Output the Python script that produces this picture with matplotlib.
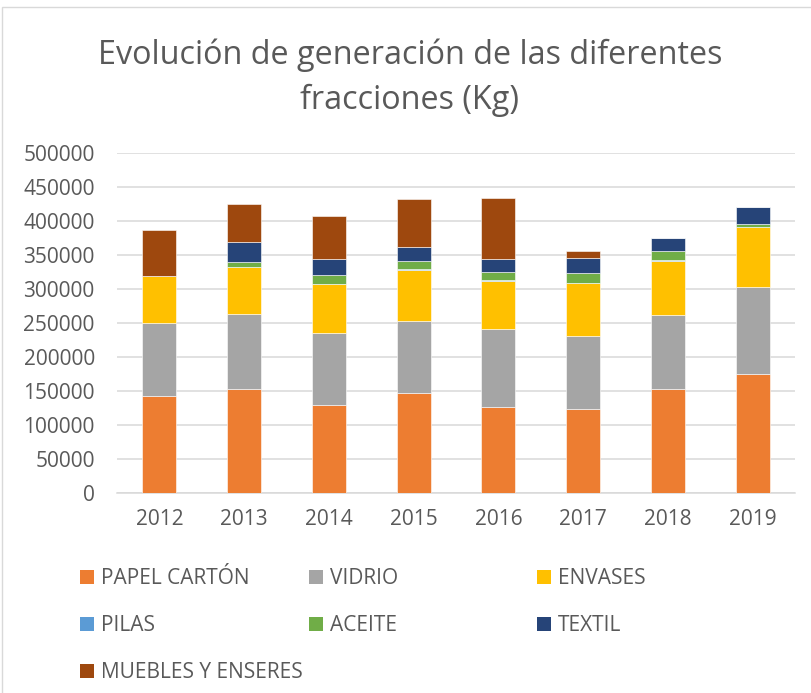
import matplotlib
matplotlib.use("Agg")
import matplotlib.pyplot as plt
import numpy as np
from matplotlib.patches import Rectangle, Patch

plt.rcParams['font.family'] = ['Open Sans', 'DejaVu Sans']

# Kg generados por fracción y año
anios = ['2012', '2013', '2014', '2015', '2016', '2017', '2018', '2019']
papel_carton = [142000, 152000, 128400, 147100, 126500, 123000, 152000, 174000]
vidrio = [107500, 110300, 106900, 105800, 114700, 107900, 109300, 128900]
envases = [68600, 69100, 71100, 75000, 70600, 77400, 79900, 87300]
pilas = [500, 500, 500, 500, 500, 500, 500, 500]
aceite = [0, 7300, 13200, 12300, 11700, 13700, 13200, 3900]
textil = [0, 28900, 23000, 21100, 20100, 23100, 20100, 25500]
muebles_enseres = [67000, 56900, 64300, 70600, 88800, 9800, 0, 0]

fracciones = ['PAPEL CARTÓN', 'VIDRIO', 'ENVASES', 'PILAS', 'ACEITE',
              'TEXTIL', 'MUEBLES Y ENSERES']
series = [papel_carton, vidrio, envases, pilas, aceite, textil, muebles_enseres]
colores = ['#ED7D31', '#A5A5A5', '#FFC000', '#5B9BD5', '#70AD47',
           '#264478', '#9E480E']

gris_texto = '#595959'
gris_linea = '#D9D9D9'

fig = plt.figure(figsize=(8.11, 6.93), dpi=100)
ax = fig.add_axes([117 / 811, 200.3 / 693, 678 / 811, 340 / 693])

x = np.arange(len(anios))
base = np.zeros(len(anios))
for nombre, valores, color in zip(fracciones, series, colores):
    ax.bar(x, valores, width=0.4, bottom=base, color=color,
           edgecolor='white', linewidth=0.4, label=nombre, zorder=3)
    base += np.array(valores)

ax.set_xlim(-0.5, len(anios) - 0.5)
ax.set_ylim(0, 500000)
ax.set_yticks(np.arange(0, 500001, 50000))
ax.set_yticklabels([str(v) for v in range(0, 500001, 50000)])
ax.set_xticks(x)
ax.set_xticklabels(anios)
ax.tick_params(axis='both', length=0, labelsize=15, colors=gris_texto)
ax.tick_params(axis='y', pad=16)
ax.tick_params(axis='x', pad=12)
ax.grid(axis='y', color=gris_linea, linewidth=1.1, zorder=0)
for lado in ['top', 'right', 'left']:
    ax.spines[lado].set_visible(False)
ax.spines['bottom'].set_color(gris_linea)
ax.spines['bottom'].set_linewidth(1.1)

fig.text(410 / 811, 1 - 55 / 693, 'Evolución de generación de las diferentes',
         ha='center', va='center', fontsize=23.3, color=gris_texto)
fig.text(410 / 811, 1 - 100 / 693, 'fracciones (Kg)',
         ha='center', va='center', fontsize=23.3, color=gris_texto)

# leyenda en tres columnas de ancho fijo
columnas = [[0, 3, 6], [1, 4], [2, 5]]
x_columnas = [80, 309, 537]
for idx, xc in zip(columnas, x_columnas):
    handles = [Patch(facecolor=colores[i], edgecolor='none') for i in idx]
    etiquetas = [fracciones[i] for i in idx]
    fig.legend(handles, etiquetas, loc='upper left',
               bbox_to_anchor=(xc / 811, 1 - 568 / 693),
               frameon=False, fontsize=15, labelcolor=gris_texto,
               handlelength=0.67, handleheight=0.67, handletextpad=0.34,
               labelspacing=1.26, borderpad=0, borderaxespad=0)

# marco del gráfico
fig.add_artist(Rectangle((2 / 811, -0.05), 1.2, 1 - 7 / 693 + 0.05,
                         transform=fig.transFigure, fill=False,
                         edgecolor=gris_linea, linewidth=1))

fig.savefig('out.png', dpi=100)
